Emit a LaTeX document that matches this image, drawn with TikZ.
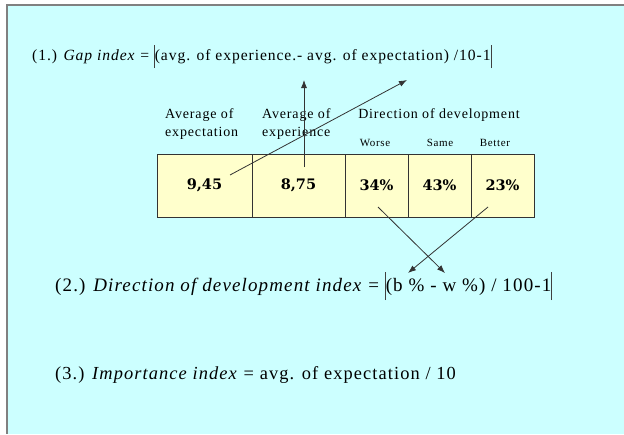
\documentclass[tikz,border=0pt]{standalone}
\usepackage{fontspec}
\setmainfont{Liberation Serif}[LetterSpace=6]
\newfontfamily\numfont{DejaVu Serif}
\usetikzlibrary{arrows.meta}
\definecolor{bgcyan}{RGB}{204,255,255}
\definecolor{cellyellow}{RGB}{255,255,204}
\definecolor{framegray}{RGB}{128,128,128}
\newcommand\absbar[2]{\textcolor{black!75}{\rule[-#1]{0.8pt}{#2}}}

\begin{document}
\begin{tikzpicture}[x=1pt,y=-1pt,
  cell/.style={draw=black!80,line width=0.9pt,fill=cellyellow,minimum height=63pt,inner sep=0pt,
    font=\numfont\bfseries\fontsize{14.5}{14.5}\selectfont},
  formula/.style={anchor=west,inner sep=0pt},
  head/.style={inner sep=0pt,font=\fontsize{14}{18}\selectfont,align=left},
  sub/.style={inner sep=0pt,font=\fontsize{11}{12}\selectfont},
  pointer/.style={-{Latex[length=8pt,width=6pt]},line width=0.8pt,draw=black!80}]
  \useasboundingbox (0,0) rectangle (624,434);
  \fill[bgcyan] (7,5) rectangle (624,434);
  \draw[framegray,line width=2pt] (624,5) -- (7,5) -- (7,434);

  \node[formula,font=\fontsize{15.6}{18}\selectfont] (gap) at (32,56.5)
    {(1.) \textit{Gap index} = \absbar{8pt}{23pt}(avg. of experience.- avg. of expectation) /10-1\absbar{8pt}{23pt}};

  \node[head,anchor=west] (hexpect) at (165,124) {Average of\\expectation};
  \node[head,anchor=west] (hexper) at (262,124) {Average of\\experience};
  \node[head] (hdir) at (439,115) {Direction of development};
  \node[sub] (lworse) at (375,143) {Worse};
  \node[sub] (lsame) at (440,143) {Same};
  \node[sub] (lbetter) at (495,143) {Better};

  \node[cell,minimum width=95pt] (c945) at (204.5,185.5) {9,45};
  \node[cell,minimum width=93pt] (c875) at (298.5,185.5) {8,75};
  \node[cell,minimum width=63pt] (cworse) at (376.5,185.5) {34\%};
  \node[cell,minimum width=63pt] (csame) at (439.5,185.5) {43\%};
  \node[cell,minimum width=63pt] (cbetter) at (502.5,185.5) {23\%};

  \node[formula,font=\fontsize{19}{20}\selectfont] (dir) at (55,286)
    {(2.) \textit{Direction of development index} = \absbar{9pt}{28pt}(b \% - w \%) / 100-1\absbar{9pt}{28pt}};
  \node[formula,font=\fontsize{18.4}{20}\selectfont] (imp) at (55,375)
    {(3.) \textit{Importance index} = avg. of expectation / 10};

  \coordinate (s945) at (230,175);
  \coordinate (s875) at (304,167);
  \coordinate (s34) at (378,207);
  \coordinate (s23) at (488,207);
  \coordinate (tgap1) at (304,80);
  \coordinate (tgap2) at (407,80);
  \coordinate (tdir1) at (445,273);
  \coordinate (tdir2) at (408,273);

  \draw[pointer] (s875) -- (tgap1);
  \draw[pointer] (s945) -- (tgap2);
  \draw[pointer] (s34) -- (tdir1);
  \draw[pointer] (s23) -- (tdir2);
\end{tikzpicture}
\end{document}
